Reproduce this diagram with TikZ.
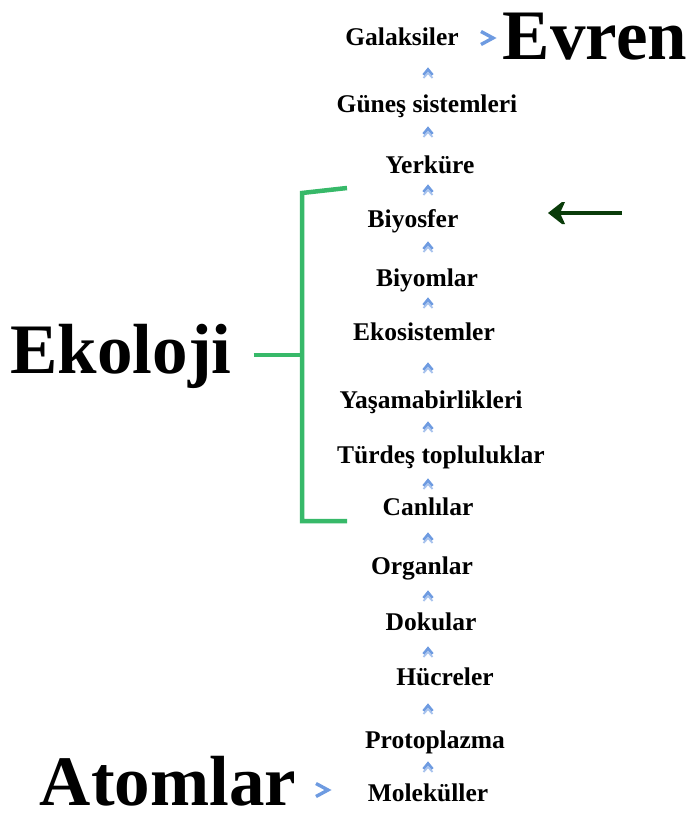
\documentclass[tikz,border=0pt]{standalone}
\usepackage{fontspec}
\setmainfont{Liberation Serif}
\definecolor{chev}{RGB}{110,155,225}
\definecolor{brk}{RGB}{55,185,105}
\definecolor{darkarr}{RGB}{10,60,10}
\begin{document}
\begin{tikzpicture}[x=1pt,y=-1pt,
  level/.style={anchor=base,inner sep=0pt,font=\fontsize{25.5}{26}\selectfont\bfseries},
  big/.style={anchor=base,inner sep=0pt,text depth=0pt,font=\fontsize{71}{72}\selectfont\bfseries},
  uparr/.pic={\draw[chev,line width=2.8pt,line join=miter] (-4.5,4) -- (0,-1.5) -- (4.5,4);
              \draw[chev!60,line width=1.8pt] (-4.5,7) -- (0,2) -- (4.5,7);},
  rarr/.pic={\draw[chev,line width=3.4pt,line join=miter] (-7,-6.5) -- (5,0) -- (-7,6.5);}
]
\useasboundingbox (0,0) rectangle (689,815);

% levels of organisation, top to bottom
\node[level] (gal) at (402,45)  {Galaksiler};
\node[level] (gun) at (427,112) {Güneş sistemleri};
\node[level] (yer) at (430,173) {Yerküre};
\node[level] (bio) at (413,227) {Biyosfer};
\node[level] (biy) at (427,286) {Biyomlar};
\node[level] (eko) at (424,340) {Ekosistemler};
\node[level] (yas) at (431,408) {Yaşamabirlikleri};
\node[level] (tur) at (441,463) {Türdeş topluluklar};
\node[level] (can) at (428,515) {Canlılar};
\node[level] (org) at (422,574) {Organlar};
\node[level] (dok) at (431,630) {Dokular};
\node[level] (huc) at (445,685) {Hücreler};
\node[level] (pro) at (435,748) {Protoplazma};
\node[level] (mol) at (428,801) {Moleküller};

% large end labels
\node[big] (evr) at (595,59)  {Evren};
\node[big] (ekl) at (121,373) {Ekoloji};
\node[big] (ato) at (168,805) {Atomlar};

% small upward arrows between consecutive levels
\foreach \y in {71,130,188,245,301,366,425,482,536,594,650,707,765}
  \pic at (428,\y) {uparr};

% arrows towards the end labels
\pic at (488,38) {rarr};
\pic at (323,790) {rarr};

% bracket grouping the ecological levels
\coordinate (btop) at (347,188);
\coordinate (bbot) at (347,521);
\coordinate (bmid) at (302,355);
\draw[brk,line width=4.5pt,line cap=butt]
  (btop) -- (302,193) -- (302,521) -- (bbot);
\draw[brk,line width=4.5pt] (ekl.east |- bmid) ++(22,0) coordinate (tick) -- (bmid);

% arrow pointing at the biosphere
\coordinate (aend) at (622,213);
\coordinate (atip) at (548,213);
\draw[darkarr,line width=4.5pt] (aend) -- ([xshift=12pt]atip);
\fill[darkarr] (atip) -- ++(14,-11) -- ++(3,0) -- ++(-5,11) -- ++(5,11) -- ++(-3,0) -- cycle;
\end{tikzpicture}
\end{document}
